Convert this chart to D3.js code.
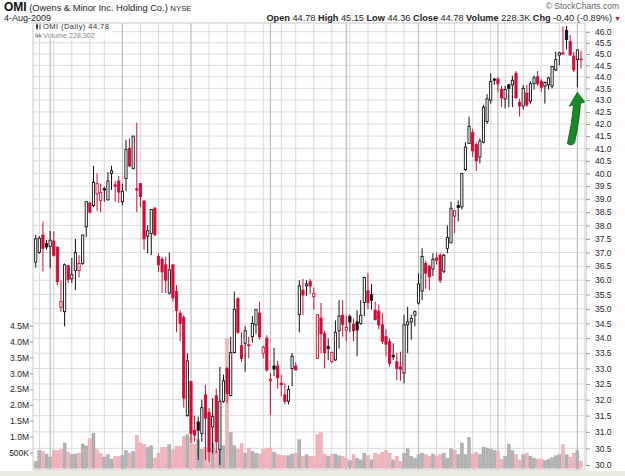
<!DOCTYPE html>
<html><head><meta charset="utf-8">
<script src="https://cdn.jsdelivr.net/npm/d3@7"></script>
<style>body{margin:0;background:#fff} svg{display:block} text{font-family:"Liberation Sans",Arial,sans-serif}</style>
</head><body><svg id="c" width="625" height="476"></svg>
<script>
// ---- data ----
const startDate = "2008-12-26", endDate = "2009-08-04";
const holidays = ["2009-01-01","2009-01-19","2009-02-16","2009-04-10","2009-05-25","2009-07-03"];
const open = [36.65,37.0,37.64,37.33,37.22,37.42,37.2,35.05,34.9,36.52,36.05,36.35,36.35,36.6,37.95,38.85,38.75,39.2,38.95,39.4,
38.97,40.0,39.55,39.7,38.9,39.8,41.0,40.2,39.4,39.6,38.93,37.6,37.7,38.65,36.85,36.75,36.55,35.55,36.55,35.6,
34.85,34.7,31.5,32.58,31.05,31.3,30.95,32.15,31.6,31.15,32.12,30.47,31.95,33.0,32.13,33.52,35.35,33.75,33.83,33.78,
34.05,34.45,34.85,33.5,34.0,32.6,33.08,33.08,32.52,32.15,31.95,33.0,33.08,34.8,35.65,35.8,35.95,35.42,33.33,34.68,
34.15,33.72,33.23,33.28,34.25,34.78,34.27,34.73,34.47,34.55,34.5,35.22,35.63,35.5,34.95,34.92,34.45,34.05,33.88,33.43,
33.22,33.05,32.85,34.45,34.55,34.78,35.2,35.62,36.6,36.5,36.4,36.8,36.9,36.32,37.15,37.35,38.35,38.75,38.7,40.15,
41.2,41.65,41.15,40.65,41.25,42.1,43.0,43.9,43.9,43.45,43.05,43.65,43.65,44.15,42.9,42.75,43.3,42.95,43.7,44.0,
43.8,43.6,43.65,43.6,44.3,44.95,45.05,46.05,45.55,44.9,44.75,44.78];
const high = [37.65,37.6,38.14,37.45,37.8,37.78,37.2,36.0,36.6,36.55,36.8,37.5,36.9,37.65,38.9,38.9,40.3,40.0,39.6,39.48,
40.05,40.3,39.7,39.9,39.6,41.35,41.4,41.5,42.05,39.6,38.93,38.0,38.6,38.7,36.97,36.85,36.85,37.0,36.55,35.83,
34.95,34.78,33.5,32.6,31.5,31.47,32.0,32.47,31.73,32.05,32.35,33.05,32.8,33.05,34.05,35.6,35.4,34.2,34.4,34.05,
34.75,35.0,35.25,33.75,34.1,32.85,33.68,33.25,32.8,32.52,32.45,33.5,33.2,36.0,36.05,36.0,36.05,35.75,34.8,35.2,
34.25,34.0,33.55,34.6,35.3,35.3,34.75,34.8,34.67,34.95,35.3,36.12,36.25,35.87,35.25,35.15,34.85,34.3,34.0,33.83,
33.5,33.55,34.8,35.07,34.8,34.95,36.25,37.15,36.7,36.55,36.97,37.0,36.97,36.95,38.0,38.9,38.57,38.95,40.0,41.25,
42.3,41.8,41.25,41.4,42.8,43.25,44.15,43.95,44.0,43.6,43.6,43.7,44.05,44.25,43.05,43.65,43.65,43.8,44.05,44.25,
43.9,43.8,44.0,44.45,45.1,45.1,46.25,46.25,45.85,45.1,45.2,45.15];
const low = [36.45,36.95,36.31,37.1,36.43,36.85,35.83,34.9,34.4,35.9,35.9,35.65,36.1,36.55,37.56,38.45,38.7,38.55,38.5,38.9,
38.95,39.35,38.9,38.85,38.75,39.3,40.25,40.15,38.5,38.7,37.1,36.97,36.9,37.6,36.3,35.55,35.55,35.5,35.25,34.2,
33.9,31.75,31.47,30.67,30.7,30.15,30.7,30.15,30.1,30.35,30.35,30.0,31.9,31.9,32.1,33.5,34.15,33.2,32.9,33.33,
33.85,34.15,33.95,33.33,32.9,31.52,32.75,32.35,32.1,31.85,31.85,32.43,32.95,34.2,34.78,35.45,35.52,34.97,33.33,33.5,
33.0,33.28,33.17,33.25,33.65,34.05,33.9,34.2,33.9,33.4,34.45,34.75,35.0,34.97,34.6,34.3,33.8,33.4,33.05,33.28,
32.62,32.6,32.52,33.5,33.95,34.4,35.15,35.3,35.7,35.65,36.15,36.55,35.9,36.25,36.97,37.35,37.7,38.15,38.6,40.1,
41.2,40.65,40.1,40.4,41.2,42.0,42.85,43.65,43.35,42.7,42.65,42.7,42.7,43.05,42.3,42.6,42.7,42.85,43.45,43.6,
43.35,42.85,43.45,43.5,44.25,44.5,44.95,45.2,44.95,44.2,43.55,44.36];
const close = [37.5,37.52,37.15,37.2,37.45,36.9,35.95,35.25,36.55,36.03,36.2,37.0,36.6,37.64,38.9,38.5,39.65,39.6,39.25,39.35,
39.7,40.1,39.5,39.27,39.3,40.95,40.3,41.5,39.35,39.1,37.5,37.8,38.6,37.65,36.55,36.3,36.0,36.37,35.38,34.95,
34.5,32.05,33.25,30.95,30.9,31.05,31.75,31.42,30.4,31.47,30.7,31.95,32.6,32.2,33.52,34.98,34.2,33.33,34.25,33.75,
34.5,34.97,34.05,33.7,32.95,32.65,32.98,32.7,32.48,31.95,32.32,33.4,32.95,35.8,35.48,35.87,35.8,35.53,34.8,34.15,
33.52,33.66,33.52,34.2,34.75,34.47,34.36,34.55,34.25,34.28,34.78,36.1,35.22,35.3,34.63,34.45,33.9,33.8,33.17,33.38,
33.0,32.98,34.45,34.55,34.67,34.9,35.87,36.85,36.25,36.12,36.75,36.72,36.0,36.9,37.55,38.65,38.55,38.68,40.0,41.05,
41.9,40.9,40.5,41.3,42.7,43.05,43.8,43.85,43.7,43.1,43.45,43.5,43.85,43.1,42.75,43.5,42.8,43.7,43.95,43.7,
43.55,43.75,43.95,44.45,44.75,45.05,45.0,45.65,44.95,44.3,45.18,44.78];
const volume = [215,563,530,450,355,555,555,585,800,510,430,450,480,765,710,935,1110,585,460,355,
430,290,375,375,395,555,480,530,1040,800,745,660,710,320,480,660,660,745,580,690,
690,1000,1060,990,750,900,600,660,620,800,560,640,710,4090,1130,720,600,775,480,640,
530,480,450,585,640,620,510,430,400,400,400,450,480,900,375,430,375,375,1060,1130,
450,375,430,450,395,375,320,245,430,320,265,480,395,265,480,430,505,555,480,265,
375,215,480,615,375,320,430,480,430,375,450,390,430,480,320,615,565,430,800,430,
975,450,510,430,670,640,610,565,530,290,375,765,555,430,265,430,480,375,320,290,
290,245,290,340,395,430,745,430,355,480,555,228];
const priceTicks = [30.0,30.5,31.0,31.5,32.0,32.5,33.0,33.5,34.0,34.5,35.0,35.5,36.0,36.5,37.0,37.5,38.0,38.5,39.0,39.5,40.0,40.5,41.0,41.5,42.0,42.5,43.0,43.5,44.0,44.5,45.0,45.5,46.0];
const volTicks = [500,1000,1500,2000,2500,3000,3500,4000,4500];
const volLabels = ["500K","1.0M","1.5M","2.0M","2.5M","3.0M","3.5M","4.0M","4.5M"];

// ---- setup ----
const svg = d3.select("#c");
const parse = d3.utcParse("%Y-%m-%d"), fmt = d3.utcFormat("%Y-%m-%d");
const hol = new Set(holidays);
const days = d3.utcDays(parse(startDate), d3.utcDay.offset(parse(endDate), 1))
  .filter(d => d.getUTCDay() % 6 !== 0 && !hol.has(fmt(d)));
const keys = days.map(fmt);
const L = 33, R = 585, T = 23, B = 470;
const x = d3.scaleBand().domain(keys).range([33.9, 582.8]);
const cx = i => x(keys[i]) + x.bandwidth() / 2;
const y = d3.scaleLog().domain([30, 46]).range([465.1, 31.7]);
const yv = d3.scaleLinear().domain([0, 4500]).range([468.3, 325.8]);

const RED = "#d40a36", BLK = "#111";
const data = keys.map((k, i) => ({
  i, o: open[i], h: high[i], l: low[i], c: close[i], v: volume[i],
  down: i > 0 && close[i] < close[i - 1], hollow: close[i] >= open[i]
}));

// background strip at bottom
svg.append("rect").attr("x", 0).attr("y", 471).attr("width", 625).attr("height", 5).attr("fill", "#ecebdf");

// grid
const g = svg.append("g");
g.selectAll("line.h").data(priceTicks).join("line")
  .attr("x1", L).attr("x2", R).attr("y1", d => y(d)).attr("y2", d => y(d))
  .attr("stroke", "#dcdcdc").attr("stroke-width", 1);
const vlines = [];
days.forEach((d, i) => {
  if (i === 0) return;
  const p = days[i - 1];
  if (d.getUTCMonth() !== p.getUTCMonth()) vlines.push({ i, m: true });
  else if (+d3.utcMonday.floor(d) !== +d3.utcMonday.floor(p)) vlines.push({ i, m: false });
});
g.selectAll("line.v").data(vlines).join("line")
  .attr("x1", d => cx(d.i)).attr("x2", d => cx(d.i)).attr("y1", T).attr("y2", B)
  .attr("stroke", d => d.m ? "#bcbcbc" : "#d8d8d8").attr("stroke-width", d => d.m ? 1.2 : 1);

// plot border
svg.append("rect").attr("x", L).attr("y", T).attr("width", R - L).attr("height", B - T)
  .attr("fill", "none").attr("stroke", "#c8c8c8");

// volume
svg.append("g").selectAll("rect").data(data).join("rect")
  .attr("x", d => cx(d.i) - 1.5).attr("width", 3)
  .attr("y", d => yv(d.v)).attr("height", d => yv(0) - yv(d.v))
  .attr("fill", d => d.down ? "#f0b4bc" : "#b2b2b2")
  .attr("stroke", d => d.down ? "#e596a3" : "#9a9a9a").attr("stroke-width", 0.4);

// candles
const cg = svg.append("g");
cg.selectAll("line").data(data).join("line")
  .attr("x1", d => cx(d.i)).attr("x2", d => cx(d.i))
  .attr("y1", d => y(d.h)).attr("y2", d => y(d.l))
  .attr("stroke", d => d.down ? RED : BLK).attr("stroke-width", 1);
cg.selectAll("rect").data(data).join("rect")
  .attr("x", d => cx(d.i) - 1.1).attr("width", 2.2)
  .attr("y", d => y(Math.max(d.o, d.c)))
  .attr("height", d => Math.max(0.6, Math.abs(y(d.o) - y(d.c))))
  .attr("fill", d => d.hollow ? "#fff" : (d.down ? RED : BLK))
  .attr("stroke", d => d.down ? RED : BLK).attr("stroke-width", 0.9);

// right axis
const ax = svg.append("g").attr("transform", `translate(${R + 1},0)`)
  .call(d3.axisRight(y).tickValues(priceTicks).tickFormat(d3.format(".1f")).tickSize(4).tickPadding(5));
ax.select(".domain").attr("stroke", "#bbb").attr("stroke-dasharray", "1,1");
ax.selectAll(".tick line").attr("stroke", "#999");
ax.selectAll("text").attr("font-size", "8.5px").attr("fill", "#222").attr("font-family", "Liberation Sans, Arial, sans-serif");

// left volume axis
const av = svg.append("g").attr("transform", `translate(${L},0)`)
  .call(d3.axisLeft(yv).tickValues(volTicks).tickFormat((d, i) => volLabels[i]).tickSize(3).tickPadding(1));
av.select(".domain").remove();
av.selectAll(".tick line").attr("stroke", "#999");
av.selectAll("text").attr("font-size", "8.5px").attr("fill", "#222").attr("font-family", "Liberation Sans, Arial, sans-serif");

// legend
svg.append("rect").attr("x", 34).attr("y", 24).attr("width", 78).attr("height", 15).attr("fill", "#fff").attr("opacity", 0.85);
const lg = svg.append("g");
lg.append("line").attr("x1", 37).attr("x2", 37).attr("y1", 23.8).attr("y2", 29.8).attr("stroke", "#333");
lg.append("rect").attr("x", 36).attr("y", 24.8).attr("width", 2).attr("height", 3.5).attr("fill", "#333");
lg.append("line").attr("x1", 40).attr("x2", 40).attr("y1", 24.3).attr("y2", 29.3).attr("stroke", "#333");
lg.append("text").attr("x", 43).attr("y", 29.2).attr("font-size", "7.6px").attr("fill", "#333").attr("letter-spacing", "0.4").text("OMI (Daily) 44.78");
[0, 1, 2, 3].forEach(k => lg.append("rect").attr("x", 35.5 + k * 1.6).attr("y", 33.5 + (k % 2) * 1.2).attr("width", 1.1).attr("height", 4 - (k % 2) * 1.2).attr("fill", "#888"));
lg.append("text").attr("x", 43).attr("y", 38.2).attr("font-size", "7.2px").attr("fill", "#888").text("Volume 228,302");

// header
const h1 = svg.append("text").attr("x", 4).attr("y", 11);
h1.append("tspan").attr("font-weight", "bold").attr("font-size", "12px").attr("fill", "#111").text("OMI");
h1.append("tspan").attr("font-size", "9.3px").attr("fill", "#222").text(" (Owens & Minor Inc. Holding Co.) ");
h1.append("tspan").attr("font-size", "7.8px").attr("fill", "#222").text("NYSE");
svg.append("text").attr("x", 619).attr("y", 9).attr("text-anchor", "end").attr("font-size", "8.5px").attr("fill", "#666").text("© StockCharts.com");
svg.append("text").attr("x", 4).attr("y", 20.5).attr("font-size", "9px").attr("fill", "#222").text("4-Aug-2009");
const stats = [["Open", "44.78"], ["High", "45.15"], ["Low", "44.36"], ["Close", "44.78"], ["Volume", "228.3K"], ["Chg", "-0.40 (-0.89%)"]];
const h2 = svg.append("text").attr("x", 612).attr("y", 20.5).attr("text-anchor", "end").attr("font-size", "9.2px").attr("fill", "#222");
stats.forEach(([k, v], j) => {
  h2.append("tspan").attr("font-weight", "bold").text((j ? " " : "") + k);
  h2.append("tspan").text(" " + v);
});
svg.append("text").attr("x", 614).attr("y", 20.5).attr("font-size", "7px").attr("fill", RED).text("▼");

// green arrow
svg.append("path")
  .attr("d", "M577.3,92.3 L584.8,102 L580.6,103.3 Q579,124 574.6,142.8 Q571.2,146.8 567.4,143.6 Q572,123.5 573.6,104.8 L569.3,106.2 Z")
  .attr("fill", "#168a26").attr("stroke", "#0b5c16").attr("stroke-width", 0.8);
</script></body></html>
